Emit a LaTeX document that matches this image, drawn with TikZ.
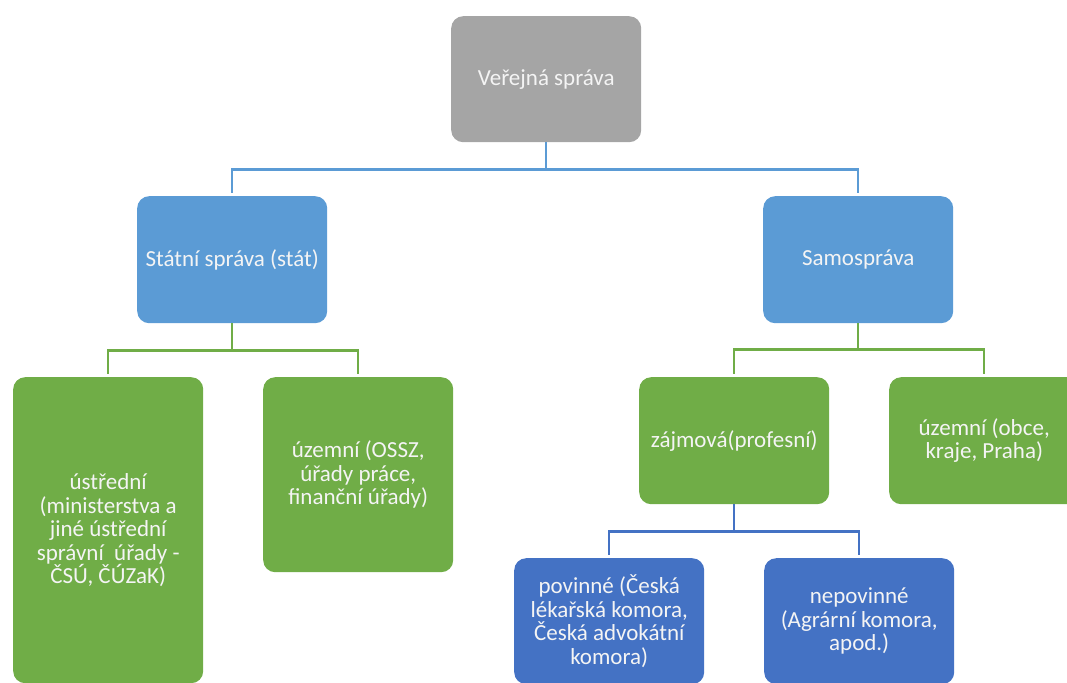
\documentclass[tikz,border=0pt]{standalone}
\usepackage{fontspec}
\setmainfont{Carlito}
\definecolor{cgray}{HTML}{A5A5A5}
\definecolor{cblue}{HTML}{5B9BD5}
\definecolor{cgreen}{HTML}{70AD47}
\definecolor{cdblue}{HTML}{4472C4}
\definecolor{ctext}{HTML}{F4F4F4}
\begin{document}
\begin{tikzpicture}[x=1pt,y=-1pt,
  box/.style={rounded corners=12pt, text=ctext, align=center,
    font=\fontsize{23}{23.5}\selectfont, inner sep=0pt, anchor=north west,
    minimum width=190pt, minimum height=127pt},
  conn/.style={line width=2.2pt, shorten >=3pt},
  lb/.style={conn, draw=cblue},
  lg/.style={conn, draw=cgreen},
  ld/.style={conn, draw=cdblue}]
\useasboundingbox (0,0) rectangle (1067,682);
\node[box, fill=cgray, minimum height=126pt] (top) at (451,16) {Veřejná správa};
\node[box, fill=cblue] (stat) at (137,196) {Státní správa (stát)};
\node[box, fill=cblue] (samo) at (763,196) {Samospráva};
\node[box, fill=cgreen, minimum height=306pt] (ustr) at (13,377) {ústřední\\(ministerstva a\\jiné ústřední\\správní~ úřady -\\ČSÚ, ČÚZaK)};
\node[box, fill=cgreen, minimum height=195pt] (uzem1) at (263,377) {územní (OSSZ,\\úřady práce,\\finanční úřady)};
\node[box, fill=cgreen] (zajm) at (639,377) {zájmová(profesní)};
\node[box, fill=cgreen] (uzem2) at (889,377) {územní (obce,\\kraje, Praha)};
\node[box, fill=cdblue, minimum height=126pt] (pov) at (514,558) {povinné (Česká\\lékařská komora,\\Česká advokátní\\komora)};
\node[box, fill=cdblue, minimum height=126pt] (nepov) at (764,558) {nepovinné\\(Agrární komora,\\apod.)};
\draw[lb] (top.south) -- ++(0,27) -| (stat.north);
\draw[lb] (top.south) -- ++(0,27) -| (samo.north);
\draw[lg] (stat.south) -- ++(0,27) -| (ustr.north);
\draw[lg] (stat.south) -- ++(0,27) -| (uzem1.north);
\draw[lg] (samo.south) -- ++(0,26) -| (zajm.north);
\draw[lg] (samo.south) -- ++(0,26) -| (uzem2.north);
\draw[ld] (zajm.south) -- ++(0,27) -| (pov.north);
\draw[ld] (zajm.south) -- ++(0,27) -| (nepov.north);
\end{tikzpicture}
\end{document}
